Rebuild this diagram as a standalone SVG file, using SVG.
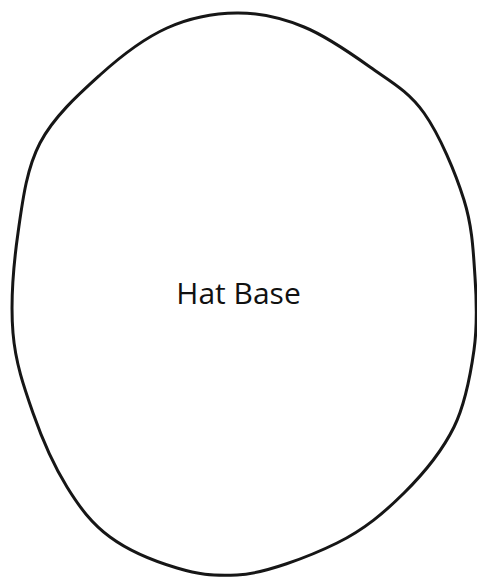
<svg xmlns="http://www.w3.org/2000/svg" width="477" height="577" viewBox="0 0 477 577">
<style>
.outline{fill:none;stroke:#161616;stroke-width:3;stroke-linecap:round;stroke-linejoin:round}
.label{font-family:"Open Sans","Noto Sans",sans-serif;font-size:30px;fill:#111;text-anchor:middle}
</style>
<rect width="477" height="577" fill="#fff"/>
<g id="hat-base">
<path class="outline" d="M 237,13 C 259.8,12.8 281.8,18 304,27 C 326.2,36 350,52.7 370,67 C 390,81.3 408.3,90.8 424,113 C 439.7,135.2 455.5,172.7 464,200 C 472.5,227.3 473.3,252 475,277 C 476.7,302 477.5,325 474,350 C 470.5,375 465.7,403.2 454,427 C 442.3,450.8 423.5,473.7 404,493 C 384.5,512.3 364.8,529.3 337,543 C 309.2,556.7 263.7,574 237,575 C 210.3,576 198.2,574.3 177,568 C 155.8,561.7 128.3,550.5 110,537 C 91.7,523.5 79.8,507.7 67,487 C 54.2,466.3 42,438.7 33,413 C 24,387.3 15.5,363 13,333 C 10.5,303 13.5,264.7 18,233 C 22.5,201.3 26.3,169.3 40,143 C 53.7,116.7 78.8,94.2 100,75 C 121.2,55.8 144.2,38.3 167,28 C 189.8,17.7 214.2,13.2 237,13 Z"/>
<text class="label" x="238.5" y="304">Hat Base</text>
</g>
<g id="connectors"></g>
</svg>
